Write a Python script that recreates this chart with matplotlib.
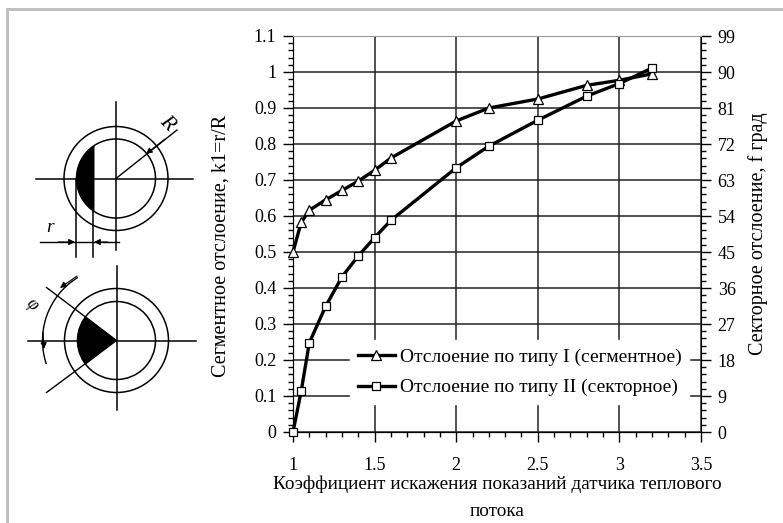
# -*- coding: utf-8 -*-
import numpy as np
import matplotlib
matplotlib.use('Agg')
import matplotlib.pyplot as plt
import matplotlib.patches as mpatches
from matplotlib.ticker import MultipleLocator

plt.rcParams['font.family'] = ['Liberation Serif', 'DejaVu Serif']

W, H = 783, 523

k_values = [1, 1.05, 1.1, 1.2, 1.3, 1.4, 1.5, 1.6, 2, 2.2, 2.5, 2.8, 3, 3.2]
segment_k1 = [0.5, 0.582, 0.616, 0.645, 0.671, 0.697, 0.727, 0.761, 0.864, 0.90, 0.925, 0.963, 0.977, 0.995]
sector_k1 = [0, 0.113, 0.248, 0.349, 0.431, 0.489, 0.54, 0.588, 0.734, 0.794, 0.866, 0.933, 0.968, 1.011]

x_ticks = [1, 1.5, 2, 2.5, 3, 3.5]
x_labels = ['1', '1.5', '2', '2.5', '3', '3.5']
y_ticks = [0, 0.1, 0.2, 0.3, 0.4, 0.5, 0.6, 0.7, 0.8, 0.9, 1, 1.1]
y_labels = ['0', '0.1', '0.2', '0.3', '0.4', '0.5', '0.6', '0.7', '0.8', '0.9', '1', '1.1']
right_ticks = [0, 9, 18, 27, 36, 45, 54, 63, 72, 81, 90, 99]

legend_labels = ['Отслоение по типу I (сегментное)', 'Отслоение по типу II (секторное)']

fig = plt.figure(figsize=(W/100.0, H/100.0), dpi=100, facecolor='white')

ax = fig.add_axes([293.0/W, 1-432.0/H, 408.0/W, 396.0/H])
ax.plot(k_values, segment_k1, color='black', lw=2.4, marker='^', ms=6.5, mfc='white', mec='black', mew=0.9,
        label=legend_labels[0], clip_on=False, zorder=5)
ax.plot(k_values, sector_k1, color='black', lw=2.4, marker='s', ms=6, mfc='white', mec='black', mew=0.9,
        label=legend_labels[1], clip_on=False, zorder=5)
ax.set_xlim(1, 3.5)
ax.set_ylim(0, 1.1)
ax.set_xticks(x_ticks)
ax.set_xticklabels(x_labels)
ax.set_yticks(y_ticks)
ax.set_yticklabels(y_labels)
ax.xaxis.set_minor_locator(MultipleLocator(0.1))
ax.yaxis.set_minor_locator(MultipleLocator(0.02))
ax.grid(True, which='major', color='#222222', lw=1.1)
ax.set_axisbelow(True)
ax.tick_params(which='major', axis='x', direction='out', length=7, width=1, labelsize=13, pad=11)
ax.tick_params(which='major', axis='y', direction='out', length=7, width=1, labelsize=13, pad=5)
ax.tick_params(which='minor', axis='x', direction='out', length=3.5, width=1)
ax.tick_params(which='minor', axis='y', direction='out', length=3.5, width=1)
ax.spines['top'].set_color('#999999')
ax.spines['right'].set_visible(False)
ax.set_xlabel('Коэффициент искажения показаний датчика теплового\nпотока', fontsize=13.9, linespacing=1.75, labelpad=1)
ax.set_ylabel('Сегментное отслоение, k1=r/R', fontsize=14.5)
ax.yaxis.set_label_coords(-0.152, 0.47)

axr = ax.twinx()
axr.set_ylim(0, 99)
axr.set_yticks(right_ticks)
axr.yaxis.set_minor_locator(MultipleLocator(1.8))
axr.tick_params(which='major', axis='y', direction='out', length=7, width=1, labelsize=13, pad=5)
axr.tick_params(which='minor', axis='y', direction='out', length=3.5, width=1)
axr.spines['top'].set_visible(False)
axr.set_ylabel('Секторное отслоение, f град', fontsize=14.5, labelpad=9)
ax.set_zorder(axr.get_zorder()+1)
ax.patch.set_visible(False)

leg = ax.legend(loc='center left', bbox_to_anchor=(0.14, 0.151), frameon=True, fancybox=False,
                framealpha=1, facecolor='white', edgecolor='white', fontsize=14, labelspacing=0.68,
                handlelength=1.9, handletextpad=0.25, borderpad=0.4, borderaxespad=0)
leg.set_zorder(3)

# pixel overlay for the sketch and the border
sk = fig.add_axes([0, 0, 1, 1], facecolor='none')
sk.set_xlim(0, W)
sk.set_ylim(H, 0)
sk.axis('off')

sk.add_patch(mpatches.Rectangle((6, 8), W, 3, fc='#c0c0c0', ec='none'))
sk.add_patch(mpatches.Rectangle((6, 8), 3, H, fc='#c0c0c0', ec='none'))

def ring(cx, cy, r1, r2):
    for r in (r1, r2):
        sk.add_patch(mpatches.Circle((cx, cy), r, fill=False, ec='black', lw=1.1))

def arrow(x0, y0, x1, y1):
    sk.annotate('', xy=(x1, y1), xytext=(x0, y0),
                arrowprops=dict(arrowstyle='-|>', color='black', lw=0.8, mutation_scale=9, shrinkA=0, shrinkB=0))

# upper sketch
cx, cy = 116, 178.5
ring(cx, cy, 52, 39.5)
t = np.linspace(np.radians(180-57), np.radians(180+57), 40)
sk.fill(np.r_[cx+39.5*np.cos(t)], np.r_[cy+39.5*np.sin(t)], color='black', lw=0)
sk.plot([36, 193], [cy, cy], 'k', lw=1.1)
sk.plot([cx, cx], [102, 250], 'k', lw=1.1)
sk.plot([cx, 177], [cy, 130], 'k', lw=1)
arrow(165, 139, 146, 154)
sk.plot([76, 76], [cy, 257], 'k', lw=1.1)
sk.plot([92.7, 92.7], [200, 257], 'k', lw=1.1)
sk.plot([40, 119], [242, 242], 'k', lw=1)
arrow(58, 242, 75, 242)
arrow(108, 242, 94, 242)
sk.text(50, 228, 'r', fontsize=14, style='italic', ha='center', va='center')
sk.text(167, 123, 'R', fontsize=15, style='italic', ha='center', va='center', rotation=-45)

# lower sketch
cx, cy = 116.5, 340.5
ring(cx, cy, 52, 39)
t = np.linspace(np.radians(180-38), np.radians(180+38), 30)
sk.fill(np.r_[cx, cx+39*np.cos(t)], np.r_[cy, cy+39*np.sin(t)], color='black', lw=0)
sk.plot([28, 196], [cy, cy], 'k', lw=1.1)
sk.plot([cx, cx], [266, 410], 'k', lw=1.1)
sk.plot([cx, cx-70], [cy, cy-53], 'k', lw=1)
sk.plot([cx, cx-70], [cy, cy+52], 'k', lw=1)
t = np.linspace(np.radians(180+58), np.radians(180-18), 40)
sk.plot(cx+74*np.cos(t), cy+74*np.sin(t), 'k', lw=1)
arrow(77, 276, 60, 288)
arrow(43, 332, 44, 349)
sk.text(32, 305, 'φ', fontsize=13, style='italic', ha='center', va='center', rotation=-45)

fig.savefig('out.png', dpi=100)
